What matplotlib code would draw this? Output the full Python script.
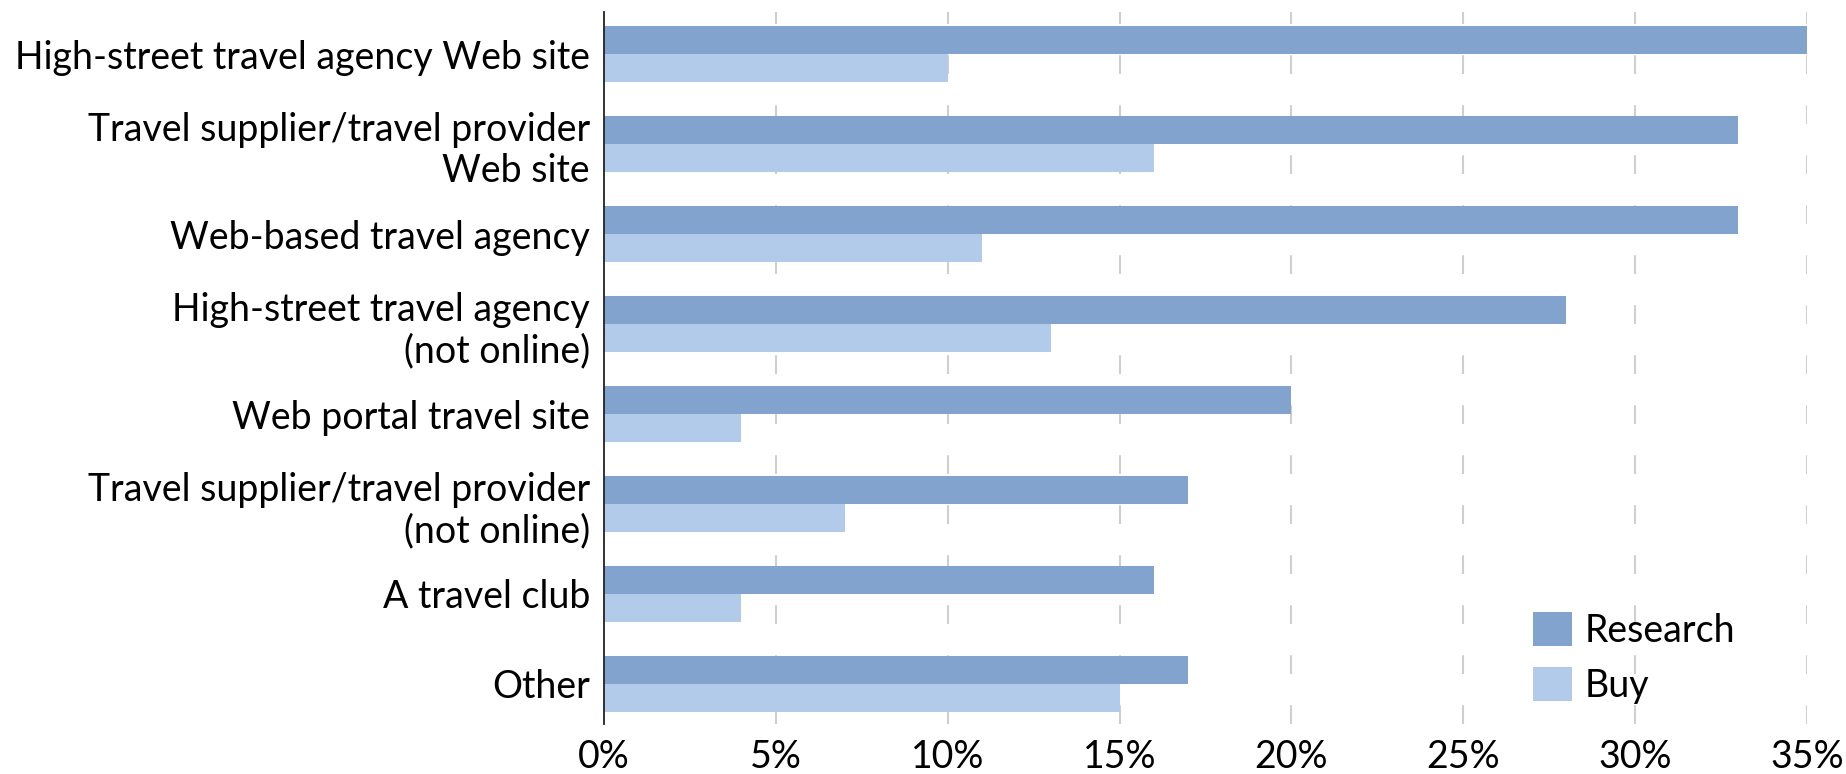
import matplotlib
matplotlib.use("Agg")
import matplotlib.pyplot as plt
import numpy as np

categories = [
    "High-street travel agency Web site",
    "Travel supplier/travel provider\nWeb site",
    "Web-based travel agency",
    "High-street travel agency\n(not online)",
    "Web portal travel site",
    "Travel supplier/travel provider\n(not online)",
    "A travel club",
    "Other",
]
research = [35, 33, 33, 28, 20, 17, 16, 17]
buy = [10, 16, 11, 13, 4, 7, 4, 15]
xticks = [0, 5, 10, 15, 20, 25, 30, 35]
xtick_labels = ["0%", "5%", "10%", "15%", "20%", "25%", "30%", "35%"]

plt.rcParams['font.family'] = ['Lato', 'DejaVu Sans']
FS = 27

fig = plt.figure(figsize=(18.46, 7.74), dpi=100)
ax = fig.add_axes([604/1846, 50/774, (1807-604)/1846, 712/774])

y = np.arange(len(categories))
h = 0.311
ax.barh(y - h/2, research, height=h, color='#82a3cd', label='Research', zorder=3)
ax.barh(y + h/2, buy, height=h, color='#b3cbea', label='Buy', zorder=3)

ax.set_xlim(0, 35)
ax.set_ylim(7 + 40/90, -42/90)
ax.set_yticks(y)
ax.set_yticklabels(categories, fontsize=FS, linespacing=1.2)
ax.set_xticks(xticks)
ax.set_xticklabels(xtick_labels, fontsize=FS)
ax.tick_params(axis='both', length=0)
ax.tick_params(axis='y', pad=10)
ax.tick_params(axis='x', pad=11)

for s in ['top', 'right', 'bottom']:
    ax.spines[s].set_visible(False)
ax.spines['left'].set_linewidth(1.3)
ax.spines['left'].set_color('#222222')
ax.spines['left'].set_zorder(4)

for xv in xticks[1:]:
    ax.axvline(xv, color='#cfcfcf', linewidth=1.5, linestyle=(0, (9, 15)), zorder=1)

leg = ax.legend(loc='lower left', bbox_to_anchor=(1533/1846, (774-704)/774),
                bbox_transform=fig.transFigure, frameon=False, fontsize=FS,
                handlelength=1.04, handleheight=1.0, labelspacing=0.5,
                handletextpad=0.35, borderpad=0.0, borderaxespad=0.0)

fig.savefig("out.png", dpi=100)
